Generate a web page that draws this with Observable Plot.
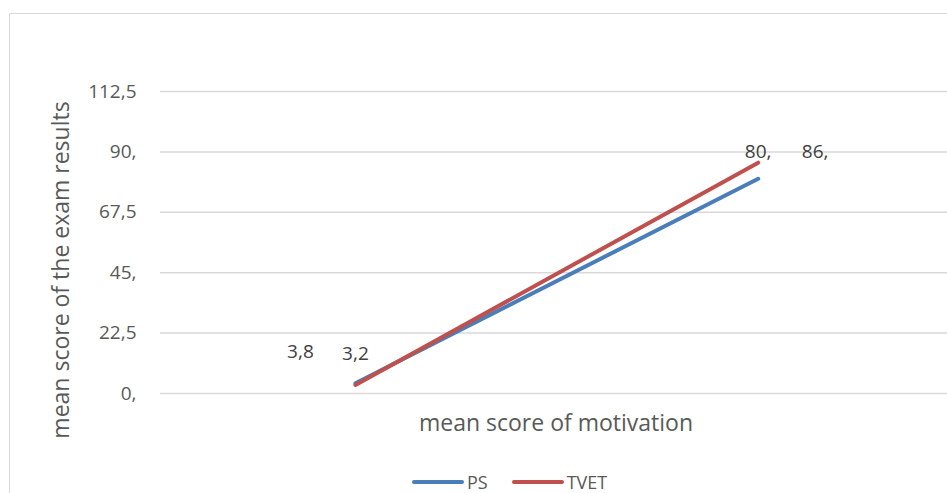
<!DOCTYPE html>
<html>
<head>
<meta charset="utf-8">
<script src="https://cdn.jsdelivr.net/npm/d3@7"></script>
<script src="https://cdn.jsdelivr.net/npm/@observablehq/plot@0.6"></script>
<style>
  html, body { margin: 0; padding: 0; background: #fff; }
  #wrap { position: relative; width: 947px; height: 493px; overflow: hidden; font-family: "Open Sans", "Noto Sans", sans-serif; color: #595959; }
  #border { position: absolute; left: 9px; top: 13px; width: 1100px; height: 700px; border: 1.5px solid #d9d9d9; box-sizing: border-box; }
  #chart { position: absolute; left: 0; top: 0; }
  #ytitle { position: absolute; left: 60px; top: 270px; transform: translate(-50%, -50%) rotate(-90deg); white-space: nowrap; font-size: 23px; line-height: 28px; }
  #xtitle { position: absolute; left: 556px; top: 422px; transform: translate(-50%, -50%); white-space: nowrap; font-size: 23px; line-height: 28px; }
  #legend { position: absolute; top: 472px; left: 412px; display: flex; gap: 24px; font-size: 18px; line-height: 20px; }
  .item { display: flex; align-items: center; gap: 3px; }
  .sw { width: 52px; height: 4px; border-radius: 2px; }
</style>
</head>
<body>
<div id="wrap">
  <div id="border"></div>
  <div id="chart"></div>
  <div id="ytitle">mean score of the exam results</div>
  <div id="xtitle">mean score of motivation</div>
  <div id="legend"></div>
</div>
<script>
const seriesNames = ["PS", "TVET"];
const colors = ["#4a7ebb", "#c0504d"];
const points = [1, 2];
const psValues = [3.8, 80];
const tvetValues = [3.2, 86];
const yTicks = [0, 22.5, 45, 67.5, 90, 112.5];

const fmt = d => Number.isInteger(d) ? d + "," : String(d).replace(".", ",");

const rows = [];
points.forEach((p, i) => {
  rows.push({series: "PS", x: p, y: psValues[i], idx: i});
  rows.push({series: "TVET", x: p, y: tvetValues[i], idx: i});
});

// label offsets (Excel-like placement)
const labelOffsets = {
  "PS-0": [-55, -31], "TVET-0": [0, -31],
  "PS-1": [0, -27], "TVET-1": [57, -11]
};
const labelMarks = rows.map(r => {
  const [dx, dy] = labelOffsets[r.series + "-" + r.idx];
  return Plot.text([r], {x: "x", y: "y", text: d => fmt(d.y), dx, dy,
    fontSize: 19, fill: "#404040", fontFamily: "Open Sans"});
});

const chart = Plot.plot({
  width: 947,
  height: 493,
  marginLeft: 160,
  marginRight: 0,
  marginTop: 91,
  marginBottom: 100,
  style: {fontFamily: "Open Sans", background: "transparent"},
  x: {domain: [0.516, 2.47], axis: null},
  y: {domain: [0, 112.5]},
  color: {domain: seriesNames, range: colors},
  marks: [
    Plot.gridY(yTicks, {stroke: "#d9d9d9", strokeOpacity: 1, strokeWidth: 1.5}),
    Plot.axisY(yTicks, {tickSize: 0, tickPadding: 24, tickFormat: fmt, fontSize: 19, color: "#595959", label: null}),
    Plot.line(rows, {x: "x", y: "y", z: "series", stroke: "series", strokeWidth: 4}),
    ...labelMarks
  ]
});
document.getElementById("chart").appendChild(chart);

const legend = document.getElementById("legend");
seriesNames.forEach((s, i) => {
  const it = document.createElement("div");
  it.className = "item";
  it.innerHTML = `<span class="sw" style="background:${colors[i]}"></span><span>${s}</span>`;
  legend.appendChild(it);
});
</script>
</body>
</html>
